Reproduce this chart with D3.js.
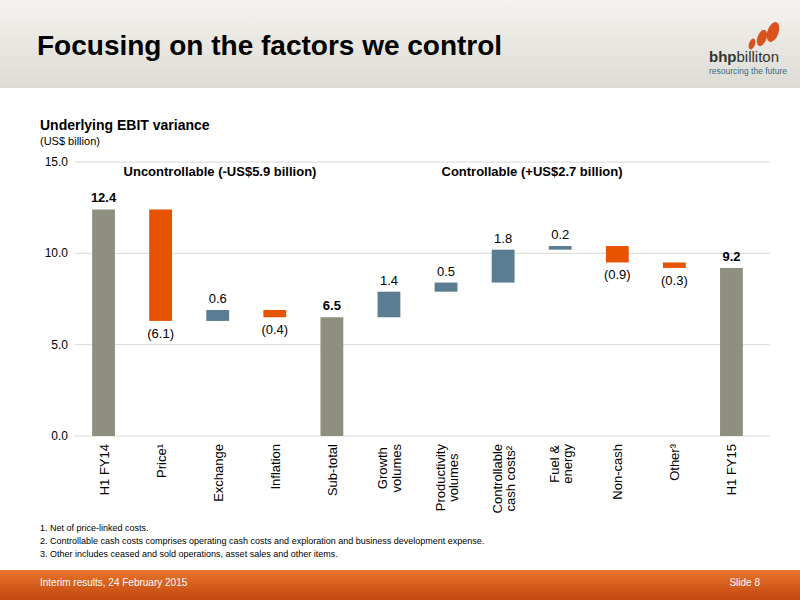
<!DOCTYPE html>
<html><head><meta charset="utf-8">
<script src="https://cdn.jsdelivr.net/npm/d3@7"></script>
<style>body{margin:0}svg{font-family:"Liberation Sans",Arial,sans-serif}</style>
</head><body>
<svg width="800" height="600"></svg>
<script>
var categories = ["H1 FY14","Price¹","Exchange","Inflation","Sub-total","Growth\nvolumes","Productivity\nvolumes","Controllable\ncash costs²","Fuel &\nenergy","Non-cash","Other³","H1 FY15"];
var starts = [0, 12.4, 6.3, 6.9, 0, 6.5, 7.9, 8.4, 10.2, 10.4, 9.5, 0];
var ends   = [12.4, 6.3, 6.9, 6.5, 6.5, 7.9, 8.4, 10.2, 10.4, 9.5, 9.2, 9.2];
var labels = ["12.4","(6.1)","0.6","(0.4)","6.5","1.4","0.5","1.8","0.2","(0.9)","(0.3)","9.2"];
var kinds  = ["total","neg","pos","neg","total","pos","pos","pos","pos","neg","neg","total"];
var yTicks = [0, 5, 10, 15];

var colors = {total:"#8f8f80", neg:"#e65400", pos:"#5b7d92"};
var svg = d3.select("svg");

// header
var g = svg.append("defs").append("linearGradient").attr("id","hg").attr("x1",0).attr("y1",0).attr("x2",0).attr("y2",1);
g.append("stop").attr("offset","0").attr("stop-color","#f4f3ef");
g.append("stop").attr("offset","1").attr("stop-color","#dcdbd4");
svg.append("rect").attr("width",800).attr("height",88).attr("fill","url(#hg)");
svg.append("text").attr("x",37).attr("y",55).attr("font-size",28).attr("font-weight","bold").text("Focusing on the factors we control");
var logo = svg.append("text").attr("x",709).attr("y",62).attr("font-size",15).attr("fill","#333");
logo.append("tspan").attr("font-weight","bold").text("bhp");
logo.append("tspan").text("billiton");
svg.append("text").attr("x",709).attr("y",74).attr("font-size",8.5).attr("fill","#3a6a85").text("resourcing the future");
[[752,44,3],[762,38,4.5],[773,32,5.5]].forEach(function(c){
  svg.append("ellipse").attr("cx",c[0]).attr("cy",c[1]).attr("rx",c[2]).attr("ry",c[2]*1.9).attr("fill","#d9531e").attr("transform","rotate(20,"+c[0]+","+c[1]+")");
});

svg.append("text").attr("x",40).attr("y",130).attr("font-size",14).attr("font-weight","bold").text("Underlying EBIT variance");
svg.append("text").attr("x",40).attr("y",145).attr("font-size",11).text("(US$ billion)");

var x = d3.scaleBand().domain(categories).range([75,760]).paddingInner(0.6).paddingOuter(0.3);
var y = d3.scaleLinear().domain([0,15]).range([436,162]);

svg.append("g").selectAll("line").data(yTicks).enter().append("line")
  .attr("x1",75).attr("x2",770).attr("y1",y).attr("y2",y).attr("stroke","#d8d8d8");
svg.append("g").selectAll("text").data(yTicks).enter().append("text")
  .attr("x",68).attr("y",function(d){return y(d)+4;}).attr("text-anchor","end").attr("font-size",12)
  .text(function(d){return d.toFixed(1);});

svg.append("g").selectAll("rect").data(categories).enter().append("rect")
  .attr("x",function(d){return x(d);}).attr("width",x.bandwidth())
  .attr("y",function(d,i){return y(Math.max(starts[i],ends[i]));})
  .attr("height",function(d,i){return Math.abs(y(starts[i])-y(ends[i]));})
  .attr("fill",function(d,i){return colors[kinds[i]];});

svg.append("g").selectAll("text").data(categories).enter().append("text")
  .attr("x",function(d){return x(d)+x.bandwidth()/2;})
  .attr("y",function(d,i){
    if(kinds[i]=="neg") return y(Math.min(starts[i],ends[i]))+17;
    return y(Math.max(starts[i],ends[i]))-7;})
  .attr("text-anchor","middle").attr("font-size",13)
  .attr("font-weight",function(d,i){return kinds[i]=="total"?"bold":"normal";})
  .text(function(d,i){return labels[i];});

svg.append("text").attr("x",220).attr("y",176).attr("text-anchor","middle").attr("font-size",13).attr("font-weight","bold").text("Uncontrollable (-US$5.9 billion)");
svg.append("text").attr("x",532).attr("y",176).attr("text-anchor","middle").attr("font-size",13).attr("font-weight","bold").text("Controllable (+US$2.7 billion)");

// rotated category labels
var xl = svg.append("g").selectAll("text").data(categories).enter().append("text")
  .attr("transform",function(d){
    var n = d.split("\n").length;
    return "translate("+(x(d)+x.bandwidth()/2+5-(n-1)*6.5)+",444) rotate(-90)";})
  .attr("font-size",13);
xl.selectAll("tspan").data(function(d){return d.split("\n");}).enter().append("tspan")
  .attr("x",0).attr("dy",function(d,i){return i?"1.05em":0;}).attr("text-anchor","middle")
  .text(function(d){return d;});
xl.each(function(){
  var t = d3.select(this);
  var w = 0; t.selectAll("tspan").each(function(){w=Math.max(w,this.getComputedTextLength());});
  t.selectAll("tspan").attr("x",-w/2);
});

var notes = ["1.  Net of price-linked costs.",
  "2.  Controllable cash costs comprises operating cash costs and exploration and business development expense.",
  "3.  Other includes ceased and sold operations, asset sales and other items."];
svg.append("g").selectAll("text").data(notes).enter().append("text")
  .attr("x",40).attr("y",function(d,i){return 531+i*13;}).attr("font-size",9).text(function(d){return d;});

var fg = svg.select("defs").append("linearGradient").attr("id","fg").attr("x1",0).attr("y1",0).attr("x2",0).attr("y2",1);
fg.append("stop").attr("offset","0").attr("stop-color","#e8742a");
fg.append("stop").attr("offset","1").attr("stop-color","#c24710");
svg.append("rect").attr("y",570).attr("width",800).attr("height",30).attr("fill","url(#fg)");
svg.append("text").attr("x",40).attr("y",586).attr("font-size",10).attr("fill","#fff").text("Interim results, 24 February 2015");
svg.append("text").attr("x",760).attr("y",586).attr("font-size",10).attr("fill","#fff").attr("text-anchor","end").text("Slide 8");
</script>
</body></html>
